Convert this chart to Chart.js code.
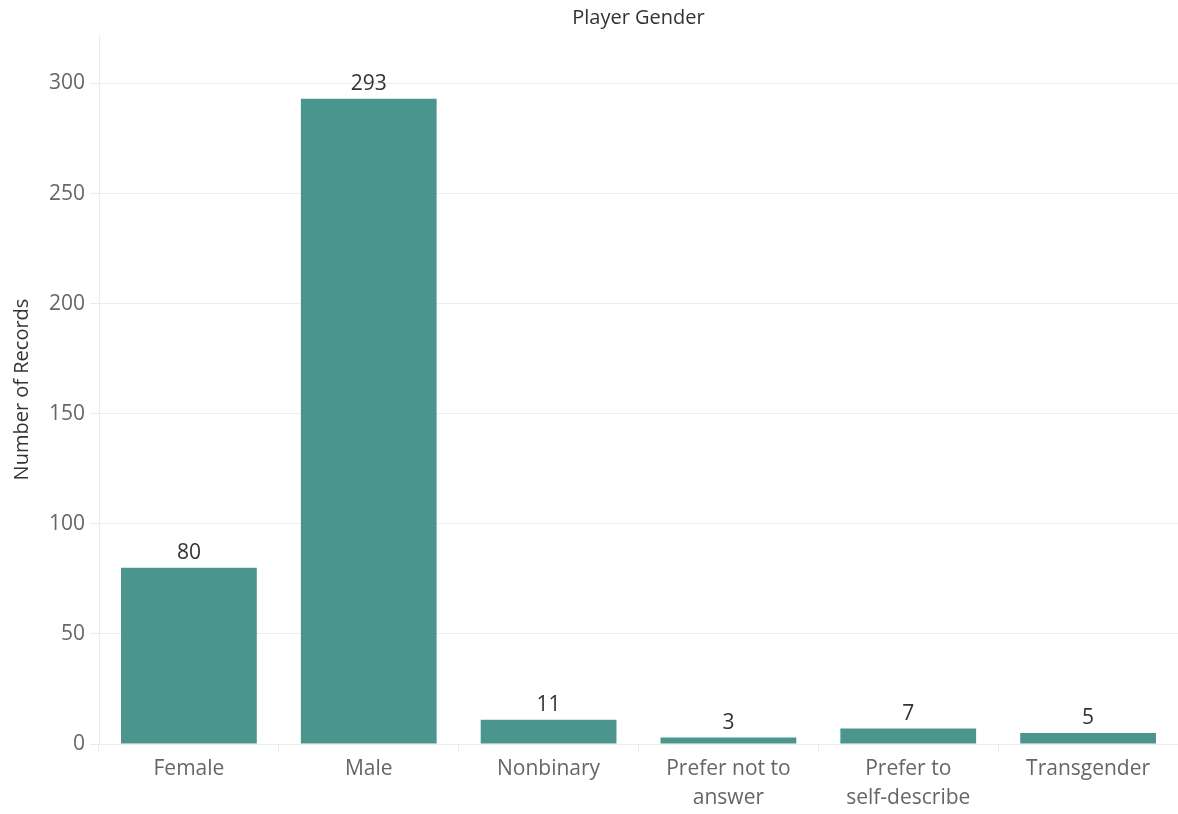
<!DOCTYPE html>
<html>
<head>
<meta charset="utf-8">
<title>Player Gender</title>
<script src="https://cdn.jsdelivr.net/npm/chart.js@4"></script>
<style>
    html, body { margin: 0; padding: 0; background: #fff; overflow: hidden; }
    #wrap { width: 1178px; height: 814px; position: relative; }
</style>
</head>
<body>
<div id="wrap"><canvas id="genderChart"></canvas></div>
<script>

const categories = [
    'Female',
    'Male',
    'Nonbinary',
    ['Prefer not to', 'answer'],
    ['Prefer to', 'self-describe'],
    'Transgender'
];

const records = [80, 293, 11, 3, 7, 5];

const yTicks = [0, 50, 100, 150, 200, 250, 300];

const fontFamily = "'Open Sans', 'Noto Sans', sans-serif";

// draws the number over each bar
const barLabels = {
    id: 'barLabels',
    afterDatasetsDraw(chart){
        const ctx = chart.ctx;
        const meta = chart.getDatasetMeta(0);
        ctx.save();
        ctx.font = '21px ' + fontFamily;
        ctx.fillStyle = '#333333';
        ctx.textAlign = 'center';
        ctx.textBaseline = 'bottom';
        meta.data.forEach((bar, i) => {
            ctx.fillText(String(records[i]), bar.x, bar.y - 4);
        });
        ctx.restore();
    }
};

function createGenderChart(){

    const ctx = document.getElementById('genderChart');

    new Chart(ctx, {

        type: 'bar',

        data: {
            labels: categories,
            datasets: [{
                label: 'Number of Records',
                data: records,
                backgroundColor: '#4a968f',
                borderWidth: 0,
                categoryPercentage: 1,
                barPercentage: 0.755
            }]
        },

        options: {
            responsive: true,
            maintainAspectRatio: false,
            animation: false,
            layout: { padding: { left: 0, right: 0, top: 0, bottom: 0 } },
            plugins: {
                legend: { display: false },
                tooltip: { enabled: false },
                title: {
                    display: true,
                    fullSize: false,
                    text: 'Player Gender',
                    color: '#333333',
                    font: { family: fontFamily, size: 20, weight: 'normal' },
                    padding: { top: 6, bottom: 5 },
                    position: 'top'
                }
            },
            scales: {
                x: {
                    offset: true,
                    grid: {
                        display: true,
                        drawOnChartArea: false,
                        drawTicks: true,
                        tickLength: 8,
                        color: '#ececec',
                        offset: true
                    },
                    border: { display: true, color: '#ececec' },
                    ticks: {
                        color: '#666666',
                        font: { family: fontFamily, size: 21, lineHeight: 1.38 },
                        padding: 3,
                        maxRotation: 0,
                        autoSkip: false
                    },
                    afterFit(scale){ scale.height = 70; }
                },
                y: {
                    min: 0,
                    max: 322,
                    afterBuildTicks(scale){
                        scale.ticks = yTicks.map(v => ({ value: v }));
                    },
                    grid: {
                        color: '#ececec',
                        tickLength: 9
                    },
                    border: { display: true, color: '#ececec' },
                    ticks: {
                        color: '#666666',
                        font: { family: fontFamily, size: 21 },
                        padding: 5
                    },
                    title: {
                        display: true,
                        text: 'Number of Records',
                        color: '#333333',
                        font: { family: fontFamily, size: 20 },
                        padding: { top: 10, bottom: 4 }
                    },
                    afterFit(scale){ scale.width = 99; }
                }
            }
        },

        plugins: [barLabels]

    });

}

createGenderChart();

</script>
</body>
</html>
